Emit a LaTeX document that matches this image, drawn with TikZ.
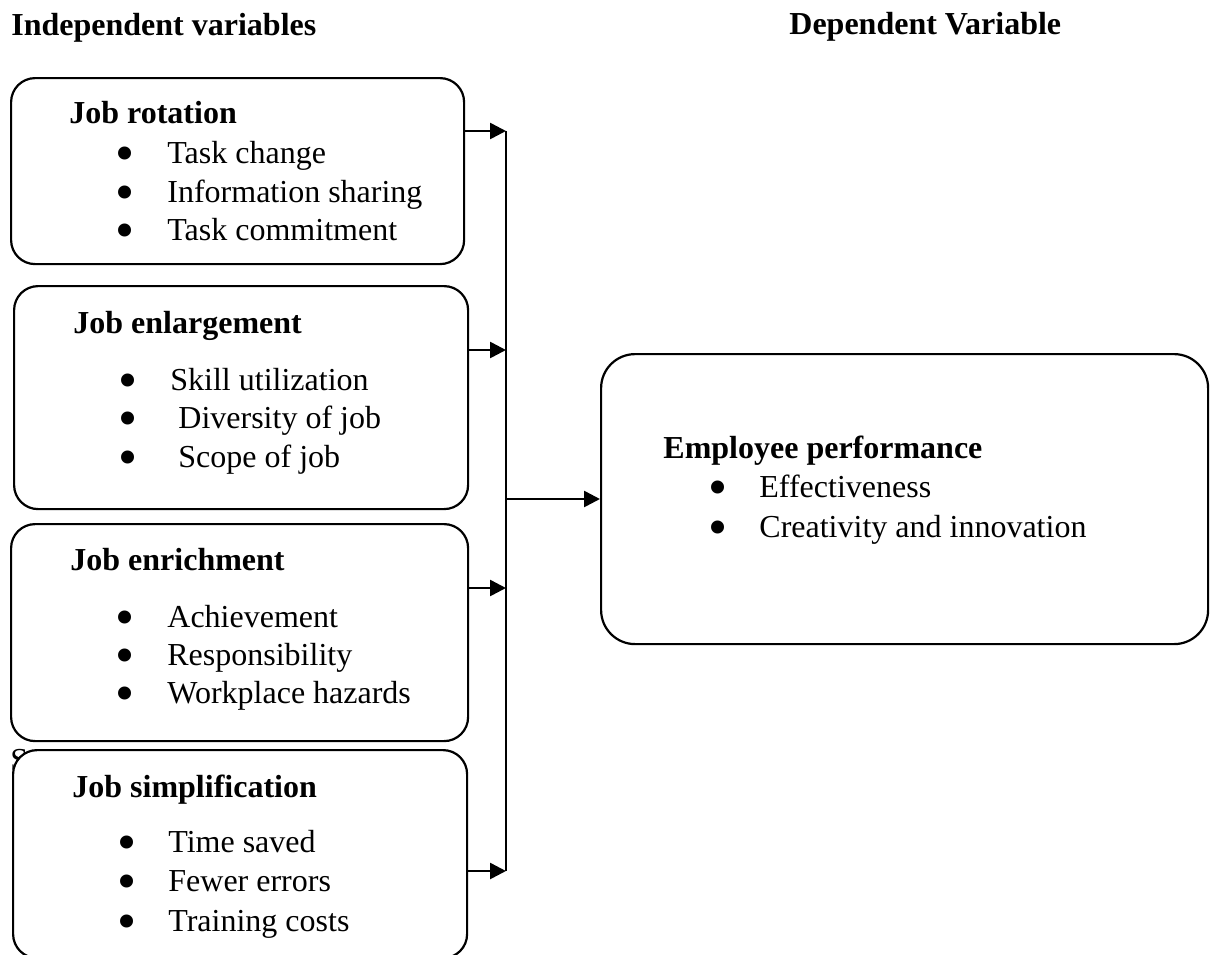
\documentclass[tikz,border=0pt]{standalone}
\usepackage{fontspec}
\setmainfont{Liberation Serif}
\usetikzlibrary{arrows.meta}
\newcommand\fs{\fontsize{16}{19.5}\selectfont}
\newcommand\bigbul{\smash{\raisebox{-4pt}{\scalebox{1.7}{\textbullet}}}}
\tikzset{
  box/.style={draw, line width=1.1pt, rounded corners=12pt, anchor=north west, inner sep=0pt, fill=white},
  ebox/.style={box, rounded corners=17pt},
  txt/.style={anchor=base west, inner sep=0pt, font=\fs},
  hd/.style={anchor=base west, inner sep=0pt, font=\fs\bfseries},
  bul/.style={anchor=base, inner sep=0pt, font=\fs},
  conn/.style={line width=1.3pt, -{Triangle[length=8pt,width=8pt]}},
  bus/.style={line width=1.1pt},
}
\begin{document}
\begin{tikzpicture}[x=0.5pt,y=-0.5pt]
\useasboundingbox (0,0) rectangle (1210,954);

% headings
\node[hd] (ih) at (11,35) {Independent variables};
\node[hd] (dh) at (789,34) {Dependent Variable};

% stray letter partly hidden by the last box
\node[txt] (s) at (10,770) {S};

% boxes
\node[box, minimum width=226.5pt, minimum height=93pt] (b1) at (10,77) {};
\node[box, minimum width=227pt, minimum height=111.5pt] (b2) at (13,285) {};
\node[box, minimum width=228.5pt, minimum height=108.5pt] (b3) at (10,523) {};
\node[box, minimum width=227pt, minimum height=104pt] (b4) at (12,749) {};
\node[ebox, minimum width=303.5pt, minimum height=145pt] (emp) at (600,353) {};

% box 1
\node[hd] (t1) at (69,123) {Job rotation};
\node[bul] (p11) at (125,163) {\bigbul};
\node[txt] (i11) at (167,163) {Task change};
\node[bul] (p12) at (125,202) {\bigbul};
\node[txt] (i12) at (167,202) {Information sharing};
\node[bul] (p13) at (125,240) {\bigbul};
\node[txt] (i13) at (167,240) {Task commitment};

% box 2
\node[hd] (t2) at (73,333) {Job enlargement};
\node[bul] (p21) at (128,390) {\bigbul};
\node[txt] (i21) at (170,390) {Skill utilization};
\node[bul] (p22) at (128,428) {\bigbul};
\node[txt] (i22) at (178,428) {Diversity of job};
\node[bul] (p23) at (128,467) {\bigbul};
\node[txt] (i23) at (178,467) {Scope of job};

% box 3
\node[hd] (t3) at (70,570) {Job enrichment};
\node[bul] (p31) at (125,627) {\bigbul};
\node[txt] (i31) at (167,627) {Achievement};
\node[bul] (p32) at (125,665) {\bigbul};
\node[txt] (i32) at (167,665) {Responsibility};
\node[bul] (p33) at (125,703) {\bigbul};
\node[txt] (i33) at (167,703) {Workplace hazards};

% box 4
\node[hd] (t4) at (72,797) {Job simplification};
\node[bul] (p41) at (127,852) {\bigbul};
\node[txt] (i41) at (168,852) {Time saved};
\node[bul] (p42) at (127,891) {\bigbul};
\node[txt] (i42) at (168,891) {Fewer errors};
\node[bul] (p43) at (127,931) {\bigbul};
\node[txt] (i43) at (168,931) {Training costs};

% employee performance
\node[hd] (te) at (663,458) {Employee performance};
\node[bul] (pe1) at (718,497) {\bigbul};
\node[txt] (ie1) at (759,497) {Effectiveness};
\node[bul] (pe2) at (718,537) {\bigbul};
\node[txt] (ie2) at (759,537) {Creativity and innovation};

% connectors
\coordinate (j1) at (506,131);
\coordinate (j2) at (506,350);
\coordinate (jm) at (506,499);
\coordinate (j3) at (506,588);
\coordinate (j4) at (506,871);
\draw[bus] (j1) -- (j4);
\draw[conn] (b1.east |- j1) -- (j1);
\draw[conn] (b2.east |- j2) -- (j2);
\draw[conn] (b3.east |- j3) -- (j3);
\draw[conn] (b4.east |- j4) -- (j4);
\draw[conn] (jm) -- (emp.west |- jm);
\end{tikzpicture}
\end{document}
